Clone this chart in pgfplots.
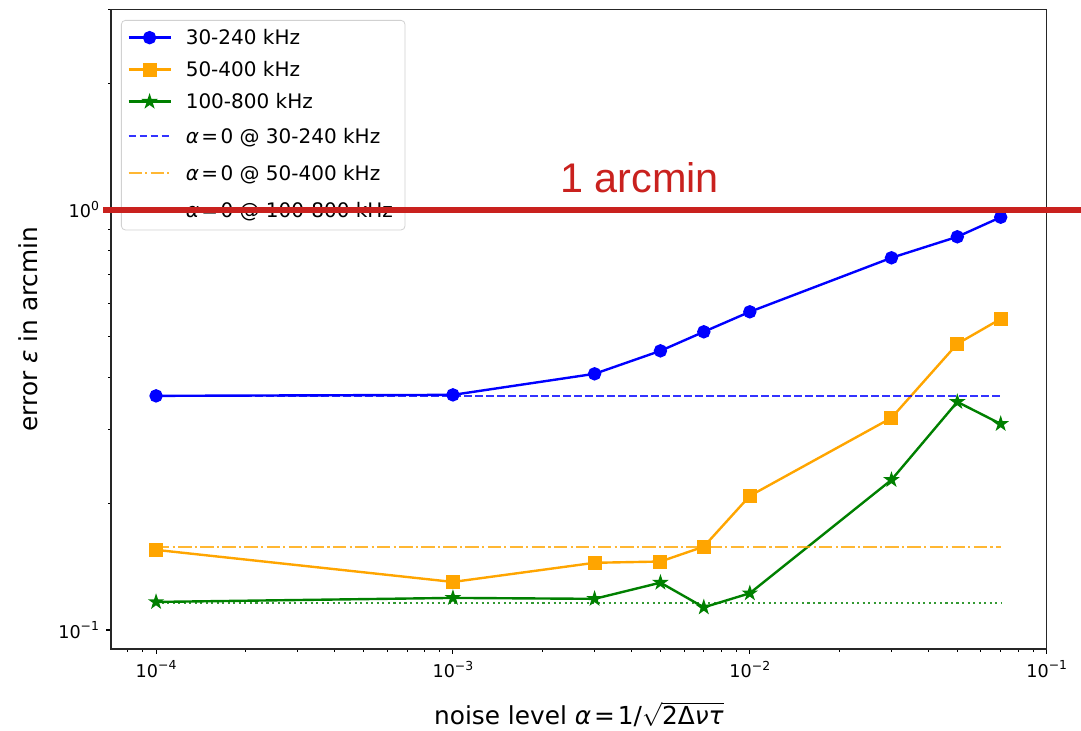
\documentclass[border=0pt]{standalone}
\usepackage{fontspec}
\setmainfont{DejaVu Sans}
\newfontfamily\libsans{Liberation Sans}
\usepackage{pgfplots}
\pgfplotsset{compat=1.18}
\usetikzlibrary{plotmarks}

\definecolor{mplblue}{HTML}{0000FF}
\definecolor{mplorange}{HTML}{FFA500}
\definecolor{mplgreen}{HTML}{008000}
\definecolor{annred}{HTML}{C9211E}

% filled five-pointed star
\pgfdeclareplotmark{fstar}{%
  \pgfpathmoveto{\pgfpointpolar{90}{\pgfplotmarksize}}%
  \pgfpathlineto{\pgfpointscale{0.382}{\pgfpointpolar{126}{\pgfplotmarksize}}}%
  \pgfpathlineto{\pgfpointpolar{162}{\pgfplotmarksize}}%
  \pgfpathlineto{\pgfpointscale{0.382}{\pgfpointpolar{198}{\pgfplotmarksize}}}%
  \pgfpathlineto{\pgfpointpolar{234}{\pgfplotmarksize}}%
  \pgfpathlineto{\pgfpointscale{0.382}{\pgfpointpolar{270}{\pgfplotmarksize}}}%
  \pgfpathlineto{\pgfpointpolar{306}{\pgfplotmarksize}}%
  \pgfpathlineto{\pgfpointscale{0.382}{\pgfpointpolar{342}{\pgfplotmarksize}}}%
  \pgfpathlineto{\pgfpointpolar{18}{\pgfplotmarksize}}%
  \pgfpathlineto{\pgfpointscale{0.382}{\pgfpointpolar{54}{\pgfplotmarksize}}}%
  \pgfpathclose
  \pgfusepathqfillstroke}

\newcommand{\pw}[1]{10\raisebox{0.42em}{\fontsize{6.2}{7}\selectfont #1}}
\newcommand{\rel}{\hspace{0.12em}=\hspace{0.12em}}
\newcommand{\azero}{{\itshape α}\rel 0}

\begin{document}
\begin{tikzpicture}
\useasboundingbox (0,0) rectangle (540.5pt,365.5pt);
\begin{axis}[
  at={(55.5pt,41pt)}, anchor=south west,
  scale only axis, width=467.85pt, height=319.85pt,
  xmode=log, ymode=log,
  xmin=7.05e-5, xmax=0.1, ymin=0.0901, ymax=3.0,
  xtick={1e-4,1e-3,1e-2,1e-1},
  xticklabels={\pw{−4},\pw{−3},\pw{−2},\pw{−1}},
  ytick={0.1,1},
  yticklabels={\pw{−1},\pw{0}},
  minor xtick={7e-5,8e-5,9e-5,
    2e-4,3e-4,4e-4,5e-4,6e-4,7e-4,8e-4,9e-4,
    2e-3,3e-3,4e-3,5e-3,6e-3,7e-3,8e-3,9e-3,
    2e-2,3e-2,4e-2,5e-2,6e-2,7e-2,8e-2,9e-2},
  minor ytick={0.2,0.3,0.4,0.5,0.6,0.7,0.8,0.9,2,3},
  tick align=outside, tick pos=left,
  major tick length=2.45pt, minor tick length=1.4pt,
  every tick/.style={black, line width=0.55pt},
  every minor tick/.style={black, line width=0.42pt},
  axis line style={black!85, line width=0.55pt},
  tick label style={font=\fontsize{8.8}{10}\selectfont},
  xlabel={noise level {\itshape α}\rel 1/$\sqrt{\mbox{2Δ{\itshape ντ}}}$},
  ylabel={error {\itshape ε} in arcmin},
  label style={font=\fontsize{12.4}{14}\selectfont},
  xlabel style={at={(axis description cs:0.5,-0.1188)}, anchor=base},
  ylabel style={at={(axis description cs:-0.0780,0.5)}, anchor=base},
  legend image code/.code={\draw[mark repeat=2,mark phase=2,#1] plot coordinates {(0pt,0pt) (10.5pt,0pt) (21pt,0pt)};},
  legend cell align=left,
  legend style={at={(0.0107,0.9833)}, anchor=north west,
    draw=black!18, rounded corners=2pt, fill=white,
    font=\fontsize{10}{12}\selectfont,
    inner xsep=3pt, inner ysep=3pt, row sep=4.7pt,
    nodes={inner xsep=3pt, inner ysep=0pt, text height=9.3pt, text depth=2pt},
    /tikz/every odd column/.append style={column sep=4pt},
    /tikz/row 4/.style={nodes={text height=10.55pt, text depth=3.25pt}},
    /tikz/row 5/.style={nodes={text height=10.55pt, text depth=3.25pt}},
    /tikz/row 6/.style={nodes={text height=10.55pt, text depth=3.25pt}}},
]
\addplot[mplblue, line width=1.2pt, mark=*, mark size=2.75pt] coordinates {
  (1e-4,0.3607) (1e-3,0.3627) (3e-3,0.4070) (5e-3,0.4616) (7e-3,0.5124)
  (1e-2,0.5717) (3e-2,0.7687) (5e-2,0.8624) (7e-2,0.960)};
\addlegendentry{30-240 kHz}
\addplot[mplorange, line width=1.2pt, mark=square*, mark size=2.9pt] coordinates {
  (1e-4,0.1551) (1e-3,0.1301) (3e-3,0.1445) (5e-3,0.1455) (7e-3,0.1579)
  (1e-2,0.2085) (3e-2,0.3197) (5e-2,0.4797) (7e-2,0.5499)};
\addlegendentry{50-400 kHz}
\addplot[mplgreen, line width=1.2pt, mark=fstar, mark size=2.4pt] coordinates {
  (1e-4,0.1166) (1e-3,0.1192) (3e-3,0.1186) (5e-3,0.1296) (7e-3,0.1132)
  (1e-2,0.1223) (3e-2,0.2276) (5e-2,0.349) (7e-2,0.3093)};
\addlegendentry{100-800 kHz}
\addplot[mplblue, opacity=0.8, line width=1.2pt, dash pattern=on 3.85pt off 1.65pt] coordinates {
  (1e-4,0.360) (7e-2,0.360)};
\addlegendentry{\azero{} @ 30-240 kHz}
\addplot[mplorange, opacity=0.8, line width=1.2pt, dash pattern=on 6.67pt off 1.67pt on 1.04pt off 1.67pt] coordinates {
  (1e-4,0.1574) (7e-2,0.1574)};
\addlegendentry{\azero{} @ 50-400 kHz}
\addplot[mplgreen, opacity=0.8, line width=1.2pt, dash pattern=on 1.04pt off 1.72pt] coordinates {
  (1e-4,0.1161) (7e-2,0.1161)};
\addlegendentry{\azero{} @ 100-800 kHz}
% one-arcmin threshold, drawn over the legend after the axis
\coordinate (thrL) at (axis cs:6.63e-5,1);
\coordinate (thrR) at (axis cs:0.1312,1);
\coordinate (thrT) at (axis cs:4.25e-3,1.098);
\end{axis}
\draw[annred, line width=3pt] (thrL) -- (thrR);
\node[anchor=base, text=annred, inner sep=0pt, font=\libsans\fontsize{20.7}{24}\selectfont] at (thrT) {1 arcmin};
\end{tikzpicture}
\end{document}
